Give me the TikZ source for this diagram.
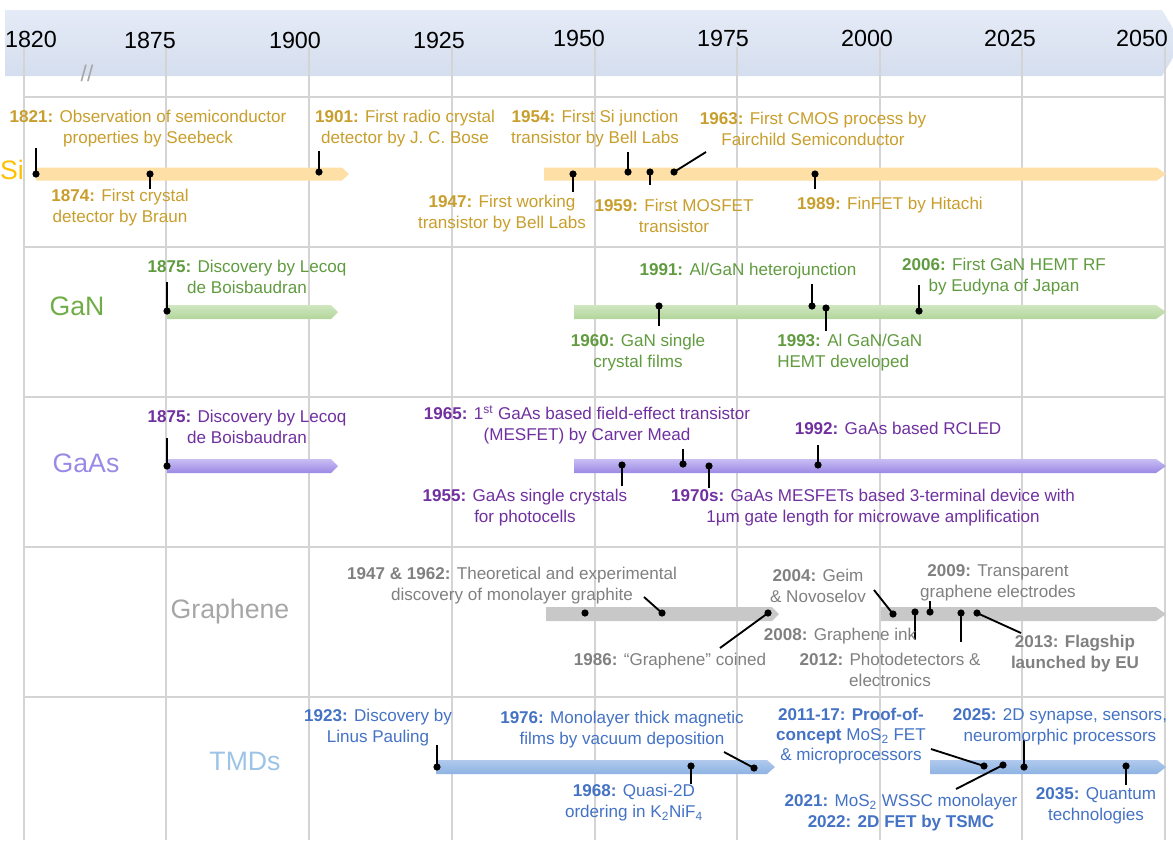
\documentclass[tikz,border=0pt]{standalone}
\usepackage{fontspec}
\setmainfont{Liberation Sans}
\usepackage{tikz}
\usepackage{xcolor}

\definecolor{gridgray}{RGB}{212,212,212}
\definecolor{bandtop}{RGB}{229,235,246}
\definecolor{bandbot}{RGB}{213,222,239}
\definecolor{sitext}{RGB}{200,158,44}
\definecolor{silabel}{RGB}{255,192,0}
\definecolor{sibar}{RGB}{254,224,166}
\definecolor{gantext}{RGB}{96,155,63}
\definecolor{ganlabel}{RGB}{112,173,71}
\definecolor{ganbartop}{RGB}{208,230,193}
\definecolor{ganbarbot}{RGB}{178,214,154}
\definecolor{gaastext}{RGB}{112,48,160}
\definecolor{gaaslabel}{RGB}{154,138,230}
\definecolor{gaasbartop}{RGB}{200,190,243}
\definecolor{gaasbarbot}{RGB}{155,136,228}
\definecolor{grtext}{RGB}{128,128,128}
\definecolor{grlabel}{RGB}{166,166,166}
\definecolor{grbar}{RGB}{200,200,200}
\definecolor{tmdtext}{RGB}{68,114,196}
\definecolor{tmdlabel}{RGB}{157,195,230}
\definecolor{tmdbartop}{RGB}{176,201,236}
\definecolor{tmdbarbot}{RGB}{142,179,227}

\begin{document}
\begin{tikzpicture}[x=0.75pt,y=0.75pt,yscale=-1,xscale=1,
  gridline/.style={draw=gridgray,line width=0.8pt},
  year/.style={inner sep=0.75pt,font=\fontsize{17.5}{20}\selectfont},
  rowlabel/.style={inner sep=0.75pt,font=\fontsize{20}{24}\selectfont},
  evt/.style={inner sep=0.75pt,align=center,font=\fontsize{12.8}{15.75}\selectfont},
  dot/.style={circle,fill=black,inner sep=0pt,minimum size=5.4pt},
  stem/.style={line width=1.4pt}]
\useasboundingbox (0,0) rectangle (1173,840);

%Shape: Header band
\shade[top color=bandtop,bottom color=bandbot] (5,10) -- (1162,10) -- (1182,43) -- (1162,76) -- (5,76) -- cycle ;

%Grid
\foreach \gx in {24,166,309,452,595,737,880,1022,1165}
  \draw[gridline] (\gx,47) -- (\gx,840) ;
\foreach \gy in {97,247,397,547,697}
  \draw[gridline] (24,\gy) -- (1165,\gy) ;

% Text Node
\draw (31,39) node [year] (y1820) {1820};
\draw (150,40) node [year] (y1875) {1875};
\draw (295,40) node [year] (y1900) {1900};
\draw (439,40) node [year] (y1925) {1925};
\draw (579,38) node [year] (y1950) {1950};
\draw (723,38) node [year] (y1975) {1975};
\draw (867,38) node [year] (y2000) {2000};
\draw (1010,38) node [year] (y2025) {2025};
\draw (1142,38) node [year] (y2050) {2050};
\draw (87,73) node [inner sep=0.75pt,text=grlabel,font=\fontsize{17}{20}\selectfont] (brk) {//};

%Shape: Bars
\fill[sibar] (36,167.5) -- (342,167.5) -- (349,174) -- (342,180.5) -- (36,180.5) -- cycle ;
\fill[sibar] (544,167.5) -- (1157,167.5) -- (1166,174) -- (1157,180.5) -- (544,180.5) -- cycle ;
\shade[top color=ganbartop,bottom color=ganbarbot] (167,305) -- (331,305) -- (338,312) -- (331,319) -- (167,319) -- cycle ;
\shade[top color=ganbartop,bottom color=ganbarbot] (574,305) -- (1156,305) -- (1166,312) -- (1156,319) -- (574,319) -- cycle ;
\shade[top color=gaasbartop,bottom color=gaasbarbot] (167,459) -- (331,459) -- (338,466) -- (331,473) -- (167,473) -- cycle ;
\shade[top color=gaasbartop,bottom color=gaasbarbot] (574,459) -- (1156,459) -- (1166,466) -- (1156,473) -- (574,473) -- cycle ;
\fill[grbar] (546,607) -- (772,607) -- (779,614) -- (772,621) -- (546,621) -- cycle ;
\fill[grbar] (881,607) -- (1156,607) -- (1166,614) -- (1156,621) -- (881,621) -- cycle ;
\shade[top color=tmdbartop,bottom color=tmdbarbot] (436,760) -- (767,760) -- (775,767) -- (767,774) -- (436,774) -- cycle ;
\shade[top color=tmdbartop,bottom color=tmdbarbot] (930,760) -- (1157,760) -- (1166,767) -- (1157,774) -- (930,774) -- cycle ;

% Row labels
\draw (12,170) node [rowlabel,text=silabel] (lsi) {Si};
\draw (77,306) node [rowlabel,text=ganlabel] (lgan) {GaN};
\draw (86,463) node [rowlabel,text=gaaslabel] (lgaas) {GaAs};
\draw (230,612) node [rowlabel,text=grlabel] (lgr) {Graphene};
\draw (245,761) node [rowlabel,text=tmdlabel] (ltmd) {TMDs};

%Si events
\node[dot] (si1821) at (36,174) {}; \coordinate (si1821e) at (36,148); \draw[stem] (si1821.center) -- (si1821e);
\node[dot] (si1874) at (150,174) {}; \coordinate (si1874e) at (150,189); \draw[stem] (si1874.center) -- (si1874e);
\node[dot] (si1901) at (319,172) {}; \coordinate (si1901e) at (319,151); \draw[stem] (si1901.center) -- (si1901e);
\node[dot] (si1947) at (573,174) {}; \coordinate (si1947e) at (573,192); \draw[stem] (si1947.center) -- (si1947e);
\node[dot] (si1954) at (628,172) {}; \coordinate (si1954e) at (628,152); \draw[stem] (si1954.center) -- (si1954e);
\node[dot] (si1959) at (650,172) {}; \coordinate (si1959e) at (650,185); \draw[stem] (si1959.center) -- (si1959e);
\node[dot] (si1963) at (674,172) {}; \coordinate (si1963e) at (706,152); \draw[stem] (si1963.center) -- (si1963e);
\node[dot] (si1989) at (815,174) {}; \coordinate (si1989e) at (815,189); \draw[stem] (si1989.center) -- (si1989e);
% Text Node
\draw (148,128.5) node [evt,text=sitext] (tsi1821) {\textbf{1821:} Observation of semiconductor\\properties by Seebeck};
\draw (120,208) node [evt,text=sitext] (tsi1874) {\textbf{1874:} First crystal\\detector by Braun};
\draw (405,128.5) node [evt,text=sitext] (tsi1901) {\textbf{1901:} First radio crystal\\detector by J. C. Bose};
\draw (502,213.5) node [evt,text=sitext] (tsi1947) {\textbf{1947:} First working\\transistor by Bell Labs};
\draw (595,128.5) node [evt,text=sitext] (tsi1954) {\textbf{1954:} First Si junction\\transistor by Bell Labs};
\draw (674,215.5) node [evt,text=sitext] (tsi1959) {\textbf{1959:} First MOSFET\\transistor};
\draw (813,128.5) node [evt,text=sitext] (tsi1963) {\textbf{1963:} First CMOS process by\\Fairchild Semiconductor};
\draw (890,205) node [evt,text=sitext] (tsi1989) {\textbf{1989:} FinFET by Hitachi};

%GaN events
\node[dot] (gan1875) at (167,311) {}; \coordinate (gan1875e) at (167,282); \draw[stem] (gan1875.center) -- (gan1875e);
\node[dot] (gan1960) at (659,306) {}; \coordinate (gan1960e) at (659,326); \draw[stem] (gan1960.center) -- (gan1960e);
\node[dot] (gan1991) at (812,306) {}; \coordinate (gan1991e) at (812,284); \draw[stem] (gan1991.center) -- (gan1991e);
\node[dot] (gan1993) at (826,308) {}; \coordinate (gan1993e) at (826,331); \draw[stem] (gan1993.center) -- (gan1993e);
\node[dot] (gan2006) at (919,311) {}; \coordinate (gan2006e) at (919,285); \draw[stem] (gan2006.center) -- (gan2006e);
% Text Node
\draw (247,277) node [evt,text=gantext] (tgan1875) {\textbf{1875:} Discovery by Lecoq\\de Boisbaudran};
\draw (638,352.5) node [evt,text=gantext] (tgan1960) {\textbf{1960:} GaN single\\crystal films};
\draw (748,271) node [evt,text=gantext] (tgan1991) {\textbf{1991:} Al/GaN heterojunction};
\draw (776,352.5) node [evt,text=gantext,anchor=west,align=left] (tgan1993) {\textbf{1993:} Al GaN/GaN\\HEMT developed};
\draw (1004,276.5) node [evt,text=gantext] (tgan2006) {\textbf{2006:} First GaN HEMT RF\\by Eudyna of Japan};

%GaAs events
\node[dot] (gaas1875) at (167,466) {}; \coordinate (gaas1875e) at (167,438); \draw[stem] (gaas1875.center) -- (gaas1875e);
\node[dot] (gaas1955) at (622,465) {}; \coordinate (gaas1955e) at (622,486); \draw[stem] (gaas1955.center) -- (gaas1955e);
\node[dot] (gaas1965) at (683,464) {}; \coordinate (gaas1965e) at (683,449); \draw[stem] (gaas1965.center) -- (gaas1965e);
\node[dot] (gaas1970) at (709,466) {}; \coordinate (gaas1970e) at (709,488); \draw[stem] (gaas1970.center) -- (gaas1970e);
\node[dot] (gaas1992) at (818,465) {}; \coordinate (gaas1992e) at (818,445); \draw[stem] (gaas1992.center) -- (gaas1992e);
% Text Node
\draw (247,426.5) node [evt,text=gaastext] (tgaas1875) {\textbf{1875:} Discovery by Lecoq\\de Boisbaudran};
\draw (525,508) node [evt,text=gaastext] (tgaas1955) {\textbf{1955:} GaAs single crystals\\for photocells};
\draw (587,424.5) node [evt,text=gaastext] (tgaas1965) {\textbf{1965:} 1\textsuperscript{st} GaAs based field-effect transistor\\(MESFET) by Carver Mead};
\draw (873,508) node [evt,text=gaastext] (tgaas1970) {\textbf{1970s:} GaAs MESFETs based 3-terminal device with\\1µm gate length for microwave amplification};
\draw (898,428) node [evt,text=gaastext] (tgaas1992) {\textbf{1992:} GaAs based RCLED};

%Graphene events
\node[dot] (gr1947) at (585,613) {};
\node[dot] (gr1962) at (662,613) {}; \coordinate (gr1962e) at (644,597); \draw[stem] (gr1962.center) -- (gr1962e);
\node[dot] (gr1986) at (768,613) {}; \coordinate (gr1986e) at (720,648); \draw[stem] (gr1986.center) -- (gr1986e);
\node[dot] (gr2004) at (893,614) {}; \coordinate (gr2004e) at (874,590); \draw[stem] (gr2004.center) -- (gr2004e);
\node[dot] (gr2008) at (915,612) {}; \coordinate (gr2008e) at (915,640); \draw[stem] (gr2008.center) -- (gr2008e);
\node[dot] (gr2009) at (930,612) {}; \coordinate (gr2009e) at (930,601); \draw[stem] (gr2009.center) -- (gr2009e);
\node[dot] (gr2012) at (961,613) {}; \coordinate (gr2012e) at (961,642); \draw[stem] (gr2012.center) -- (gr2012e);
\node[dot] (gr2013) at (977,613) {}; \coordinate (gr2013e) at (1021,633); \draw[stem] (gr2013.center) -- (gr2013e);
% Text Node
\draw (512,586) node [evt,text=grtext] (tgr1947) {\textbf{1947 \& 1962:} Theoretical and experimental\\discovery of monolayer graphite};
\draw (670,661) node [evt,text=grtext] (tgr1986) {\textbf{1986:} ``Graphene'' coined};
\draw (818,585.5) node [evt,text=grtext] (tgr2004) {\textbf{2004:} Geim\\\& Novoselov};
\draw (840,636) node [evt,text=grtext] (tgr2008) {\textbf{2008:} Graphene ink};
\draw (998,583) node [evt,text=grtext] (tgr2009) {\textbf{2009:} Transparent\\graphene electrodes};
\draw (890,670) node [evt,text=grtext] (tgr2012) {\textbf{2012:} Photodetectors \&\\electronics};
\draw (1075,654) node [evt,text=grtext] (tgr2013) {\textbf{2013: Flagship}\\\textbf{launched by EU}};

%TMD events
\node[dot] (tmd1923) at (437,767) {}; \coordinate (tmd1923e) at (437,745); \draw[stem] (tmd1923.center) -- (tmd1923e);
\node[dot] (tmd1968) at (691,766) {}; \coordinate (tmd1968e) at (691,784); \draw[stem] (tmd1968.center) -- (tmd1968e);
\node[dot] (tmd1976) at (754,768) {}; \coordinate (tmd1976e) at (724,752); \draw[stem] (tmd1976.center) -- (tmd1976e);
\node[dot] (tmd2011) at (984,766) {}; \coordinate (tmd2011e) at (931,749); \draw[stem] (tmd2011.center) -- (tmd2011e);
\node[dot] (tmd2021) at (1003,765) {}; \coordinate (tmd2021e) at (956,789); \draw[stem] (tmd2021.center) -- (tmd2021e);
\node[dot] (tmd2025) at (1024,767) {}; \coordinate (tmd2025e) at (1024,740); \draw[stem] (tmd2025.center) -- (tmd2025e);
\node[dot] (tmd2035) at (1126,766) {}; \coordinate (tmd2035e) at (1126,785); \draw[stem] (tmd2035.center) -- (tmd2035e);
% Text Node
\draw (378,728) node [evt,text=tmdtext] (ttmd1923) {\textbf{1923:} Discovery by\\Linus Pauling};
\draw (634,802.5) node [evt,text=tmdtext] (ttmd1968) {\textbf{1968:} Quasi-2D\\ordering in K\textsubscript{2}NiF\textsubscript{4}};
\draw (622,729.5) node [evt,text=tmdtext] (ttmd1976) {\textbf{1976:} Monolayer thick magnetic\\films by vacuum deposition};
\draw (851,736) node [evt,text=tmdtext,font=\fontsize{12.8}{15}\selectfont] (ttmd2011) {\textbf{2011-17: Proof-of-}\\\textbf{concept} MoS\textsubscript{2} FET\\\& microprocessors};
\draw (901,813) node [evt,text=tmdtext] (ttmd2021) {\textbf{2021:} MoS\textsubscript{2} WSSC monolayer\\\textbf{2022: 2D FET by TSMC}};
\draw (1060,726.5) node [evt,text=tmdtext] (ttmd2025) {\textbf{2025:} 2D synapse, sensors,\\neuromorphic processors};
\draw (1096,806) node [evt,text=tmdtext] (ttmd2035) {\textbf{2035:} Quantum\\technologies};

\end{tikzpicture}
\end{document}
